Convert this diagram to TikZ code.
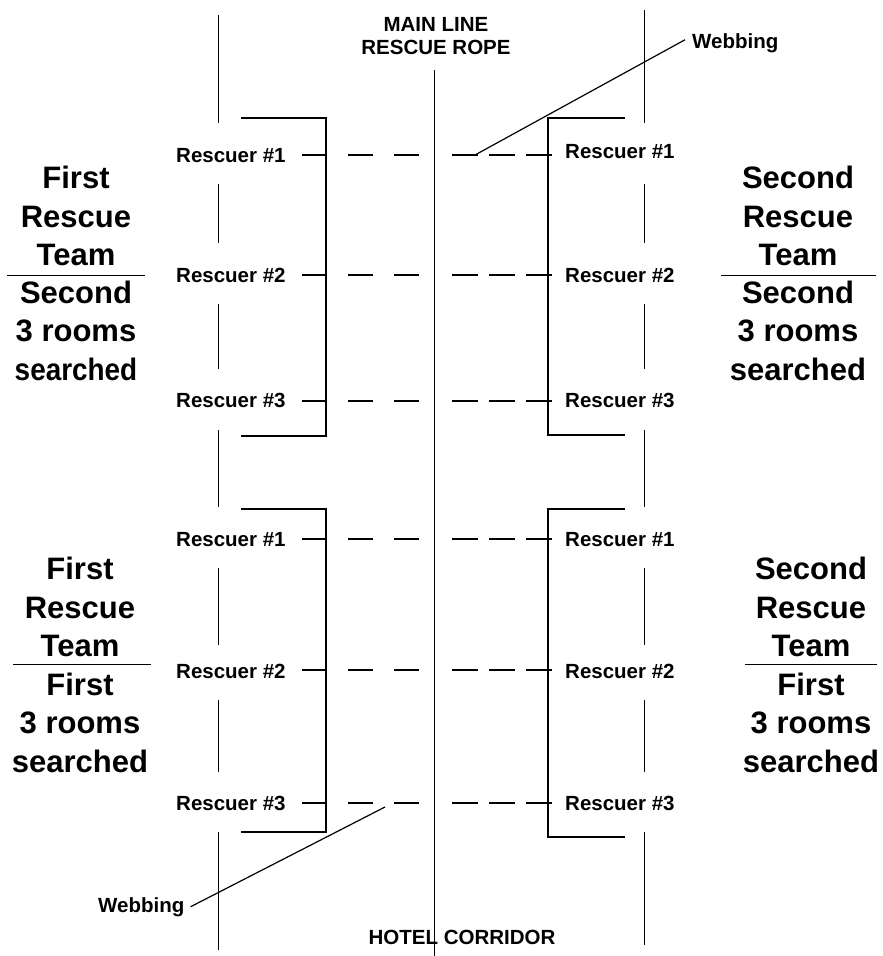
\documentclass[tikz,border=0pt]{standalone}
\usepackage{fontspec}
\setmainfont{Liberation Sans}
\begin{document}
\begin{tikzpicture}[x=1pt,y=-1pt,
  small/.style={font=\fontsize{20.5}{23}\selectfont\bfseries, inner sep=0pt},
  big/.style={font=\fontsize{31}{38.5}\selectfont\bfseries, inner sep=0pt, align=center},
  wall/.style={line width=1pt},
  rope/.style={line width=1pt},
  webline/.style={line width=2.5pt, dash pattern=on 25pt off 21pt},
  webline2/.style={line width=2.5pt, dash pattern=on 25.5pt off 11.5pt},
  bracket/.style={line width=1.6pt},
  leader/.style={line width=1.2pt}]
\useasboundingbox (0,0) rectangle (883,956);

% titles
\node[small, align=center, anchor=south] (title) at (436,55) {MAIN LINE\\RESCUE ROPE};
\node[small, anchor=base] (corridor) at (462,944) {HOTEL CORRIDOR};

% walls
\foreach \a/\b in {15/123,184/243,304/369,430/507,568/645,700/772,832/950}
  \draw[wall] (218,\a) -- (218,\b);
\foreach \a/\b in {10/123,184/243,304/369,430/507,568/645,700/772,832/945}
  \draw[wall] (644,\a) -- (644,\b);

% main line rope
\coordinate (ropetop) at (434,70);
\coordinate (ropebot) at (434,956);
\draw[rope] (ropetop) -- (ropebot);

% brackets
\draw[bracket] (241,118) -- (326,118) -- (326,436) -- (241,436);
\draw[bracket] (625,118) -- (548,118) -- (548,435) -- (625,435);
\draw[bracket] (241,509) -- (326,509) -- (326,832) -- (241,832);
\draw[bracket] (625,509) -- (548,509) -- (548,837) -- (625,837);

% rescuer labels and webbing
\foreach \i/\lb/\rb/\dy/\n in {1/162/158/155/1, 2/282/282/275/2, 3/407/407/401/3,
                               4/546/546/539/1, 5/678/678/670/2, 6/810/810/803/3}{
  \node[small, anchor=base west] (lr\i) at (176,\lb) {Rescuer \#\n};
  \node[small, anchor=base west] (rr\i) at (565,\rb) {Rescuer \#\n};
  \coordinate (wa\i) at (302,\dy);
  \coordinate (wb\i) at (420,\dy);
  \coordinate (wc\i) at (452,\dy);
  \coordinate (wd\i) at (553,\dy);
  \draw[webline] (wa\i) -- (wb\i);
  \draw[webline2] (wc\i) -- (wd\i);
}

% webbing callouts
\node[small, anchor=base west] (webtop) at (692,48) {Webbing};
\node[small, anchor=base west] (webbot) at (98,912) {Webbing};
\coordinate (wtpt) at (475,155);
\coordinate (wbpt) at (385,807);
\draw[leader] (webtop.west) ++(-7,-3) -- (wtpt);
\draw[leader] (webbot.east) ++(6,0) -- (wbpt);

% team blocks
\node[big, anchor=south] (t1a) at (76,266) {First\\Rescue\\Team};
\node[big, anchor=north] (t1b) at (76,280.4) {Second\\3 rooms\\\scalebox{0.9}[1]{searched}};
\draw[wall] (7,275) -- (145,275);

\node[big, anchor=south] (t2a) at (798,266) {Second\\Rescue\\Team};
\node[big, anchor=north] (t2b) at (798,280.4) {Second\\3 rooms\\searched};
\draw[wall] (721,275) -- (876,275);

\node[big, anchor=south] (t3a) at (80,657) {First\\Rescue\\Team};
\node[big, anchor=north] (t3b) at (80,672.4) {First\\3 rooms\\searched};
\draw[wall] (13,664) -- (151,664);

\node[big, anchor=south] (t4a) at (811,657) {Second\\Rescue\\Team};
\node[big, anchor=north] (t4b) at (811,672.4) {First\\3 rooms\\searched};
\draw[wall] (745,664) -- (877,664);
\end{tikzpicture}
\end{document}
